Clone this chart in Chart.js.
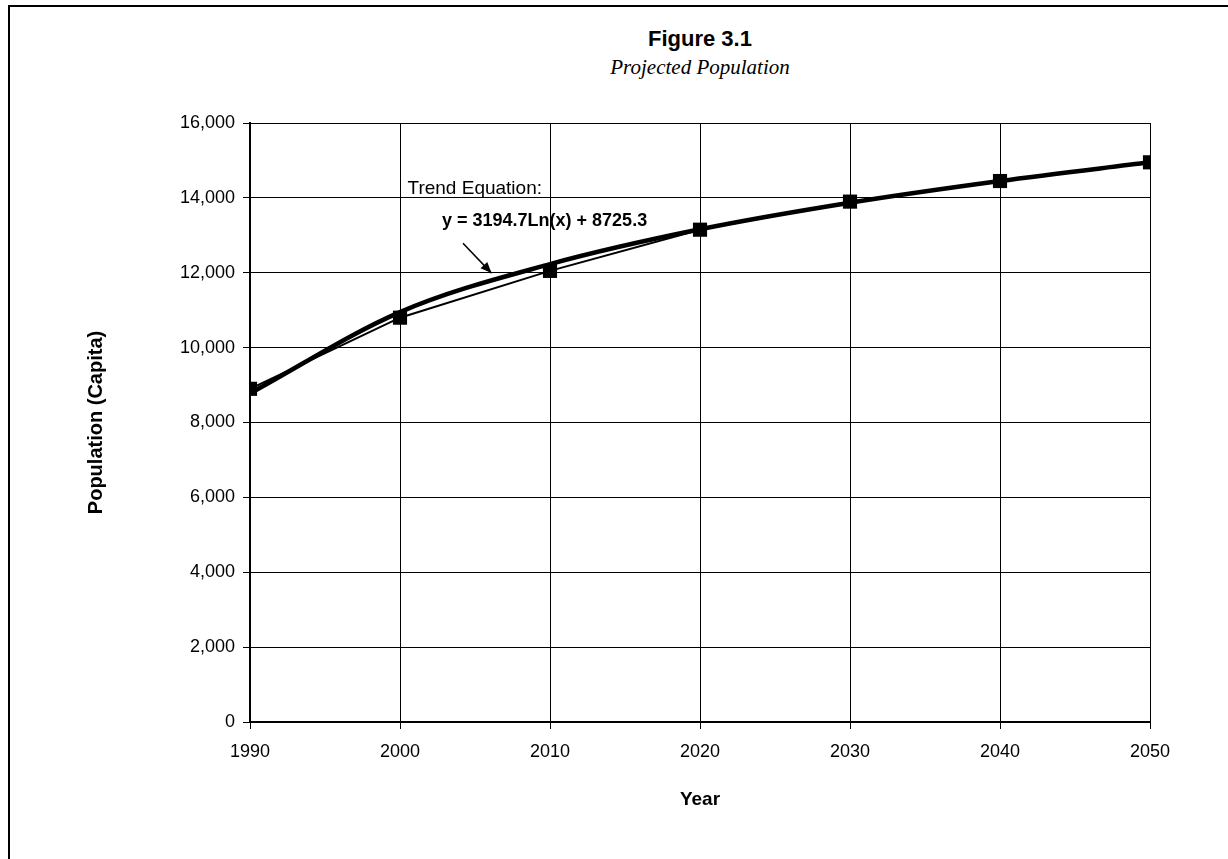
<!DOCTYPE html>
<html>
<head>
<meta charset="utf-8">
<script src="https://cdn.jsdelivr.net/npm/chart.js@4.4.1/dist/chart.umd.min.js"></script>
<style>
html,body{margin:0;padding:0;background:#fff;}
#wrap{position:relative;width:1228px;height:859px;overflow:hidden;}
#frame{position:absolute;left:8px;top:5px;width:1240px;height:880px;border-top:2px solid #000;border-left:2px solid #000;}
#chart{position:absolute;left:0;top:0;}
.ttl{position:absolute;left:0;width:1400px;text-align:center;color:#000;}
#t1{top:26px;font:bold 22px "Liberation Sans",Arial,sans-serif;}
#t2{top:55px;font:italic 21px "Liberation Serif","Times New Roman",serif;}
</style>
</head>
<body>
<div id="wrap">
  <div id="frame"></div>
  <div class="ttl" id="t1">Figure 3.1</div>
  <div class="ttl" id="t2">Projected Population</div>
  <canvas id="chart" width="1228" height="859"></canvas>
</div>
<script>
// --- datos ---
var years=[1990,2000,2010,2020,2030,2040,2050];
var population=[8900,10800,12050,13150,13900,14450,14950];
var trendValues=[8780,10950,12230,13160,13870,14450,14950];
var trendLabel='Trend Equation:';
var trendEq='y = 3194.7Ln(x) + 8725.3';

function pts(xs,ys){return xs.map(function(x,i){return {x:x,y:ys[i]};});}

var notas={
  id:'notas',
  afterDatasetsDraw:function(chart){
    var c=chart.ctx,xs=chart.scales.x,ys=chart.scales.y;
    c.save();
    c.fillStyle='#000';c.textBaseline='middle';c.textAlign='left';
    c.font='19px "Liberation Sans", Arial, sans-serif';
    c.fillText(trendLabel,xs.getPixelForValue(2000.5),ys.getPixelForValue(14230));
    c.font='bold 18px "Liberation Sans", Arial, sans-serif';
    c.fillText(trendEq,xs.getPixelForValue(2002.8),ys.getPixelForValue(13370));
    // flecha
    var x0=xs.getPixelForValue(2004.2),y0=ys.getPixelForValue(12790);
    var x1=xs.getPixelForValue(2006.1),y1=ys.getPixelForValue(11990);
    c.strokeStyle='#000';c.lineWidth=1.5;
    c.beginPath();c.moveTo(x0,y0);c.lineTo(x1,y1);c.stroke();
    var a=Math.atan2(y1-y0,x1-x0),L=12;
    c.beginPath();c.moveTo(x1,y1);
    c.lineTo(x1-L*Math.cos(a-0.4),y1-L*Math.sin(a-0.4));
    c.lineTo(x1-L*Math.cos(a+0.4),y1-L*Math.sin(a+0.4));
    c.closePath();c.fill();
    c.restore();
  }
};

Chart.defaults.font.family='"Liberation Sans", Arial, sans-serif';
Chart.defaults.color='#000';

new Chart(document.getElementById('chart'),{
  type:'line',
  data:{
    datasets:[
      {label:'Trend',data:pts(years,trendValues),borderColor:'#000',borderWidth:4.5,pointRadius:0,
        cubicInterpolationMode:'monotone',fill:false,order:2},
      {label:'Population',data:pts(years,population),borderColor:'#000',backgroundColor:'#000',borderWidth:2,
        pointStyle:'rect',pointRadius:10,pointBorderWidth:0,tension:0,fill:false,order:1}
    ]
  },
  options:{
    responsive:false,animation:false,
    layout:{padding:{left:10,right:78,top:123,bottom:0}},
    plugins:{legend:{display:false},tooltip:{enabled:false},title:{display:false}},
    scales:{
      x:{type:'linear',min:1990,max:2050,
        ticks:{stepSize:10,padding:12,font:{size:18},callback:function(v){return String(v);},maxRotation:0},
        grid:{color:'#000',lineWidth:1,tickLength:7},
        border:{color:'#000',width:2},
        title:{display:true,text:'Year',font:{size:19,weight:'bold'},padding:{top:0,bottom:48}},
        afterFit:function(s){s.height=137;}
      },
      y:{min:0,max:16000,
        ticks:{stepSize:2000,padding:8,font:{size:18},callback:function(v){return v.toLocaleString('en-US');}},
        grid:{color:'#000',lineWidth:1,tickLength:7},
        border:{color:'#000',width:2},
        title:{display:true,text:'Population (Capita)',font:{size:20,weight:'bold'},padding:{top:74,bottom:0}},
        afterFit:function(s){s.width=240;}
      }
    }
  },
  plugins:[notas]
});
</script>
</body>
</html>
